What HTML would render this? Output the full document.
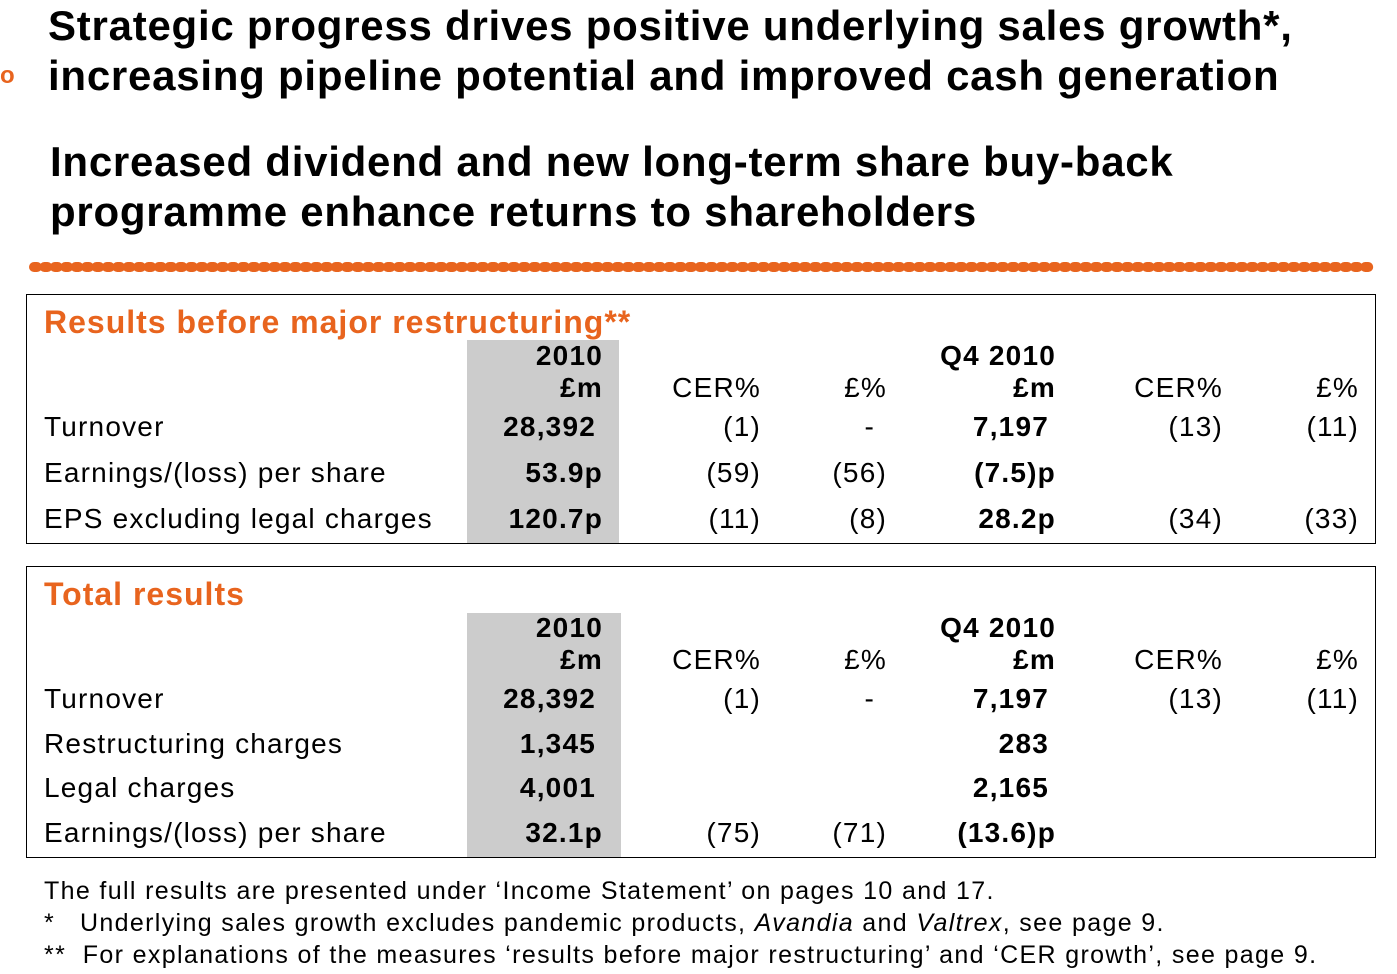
<!DOCTYPE html>
<html><head><meta charset="utf-8"><style>
body{margin:0;width:1397px;height:974px;background:#fff;position:relative;overflow:hidden;font-family:"Liberation Sans",Arial,sans-serif;}
.a{position:absolute;white-space:nowrap;line-height:1;}
.t{font-weight:bold;font-size:42px;color:#000;left:48px;letter-spacing:0.75px;}
.h{font-weight:bold;font-size:32px;color:#E8641E;left:44px;letter-spacing:1px;}
.c{font-size:28px;color:#000;letter-spacing:1.2px;}
.b{font-weight:bold;}
.r{text-align:right;width:250px;}
.box{position:absolute;border:1.5px solid #000;}
.gray{position:absolute;background:#CCCCCC;}
.f{font-size:25px;color:#000;left:44px;letter-spacing:1.35px;}
</style></head><body>
<div class="a" style="left:0;top:64px;font-size:24px;font-weight:bold;color:#E8641E">o</div>
<div class="a t" style="top:5px">Strategic progress drives positive underlying sales growth*,</div>
<div class="a t" style="top:55px">increasing pipeline potential and improved cash generation</div>
<div class="a t" style="top:141px;left:50px">Increased dividend and new long-term share buy-back</div>
<div class="a t" style="top:191px;left:50px">programme enhance returns to shareholders</div>
<svg class="a" style="left:28px;top:260px" width="1350" height="14">
<line x1="6" y1="7" x2="1342" y2="7" stroke="#E8641E" stroke-width="10" stroke-linecap="round" stroke-dasharray="3 7.4"/>
<line x1="6" y1="7" x2="1342" y2="7" stroke="#E8641E" stroke-width="5"/>
</svg>

<div class="box" style="left:26px;top:294px;width:1348px;height:248px"></div>
<div class="gray" style="left:467px;top:340px;width:152px;height:203px"></div>
<div class="a h" style="top:306px">Results before major restructuring**</div>

<div class="box" style="left:26px;top:566px;width:1348px;height:290px"></div>
<div class="gray" style="left:467px;top:613px;width:154px;height:244px"></div>
<div class="a h" style="top:578px">Total results</div>

<div id="cells"></div>

<div class="a f" style="top:879px">The full results are presented under ‘Income Statement’ on pages 10 and 17.</div>
<div class="a f" style="top:911px">*&nbsp;&nbsp; Underlying sales growth excludes pandemic products, <i>Avandia</i> and <i>Valtrex</i>, see page 9.</div>
<div class="a f" style="top:943px">**&nbsp; For explanations of the measures ‘results before major restructuring’ and ‘CER growth’, see page 9.</div>

<script>
const colRight=[603,761,887,1056,1223,1359];
const colBold=[true,false,false,true,false,false];
const t1Header=[["2010","£m"],["","CER%"],["","£%"],["Q4 2010","£m"],["","CER%"],["","£%"]];
const t1Labels=["Turnover","Earnings/(loss) per share","EPS excluding legal charges"];
const t1Values=[["28,392","(1)","-","7,197","(13)","(11)"],["53.9p","(59)","(56)","(7.5)p","",""],["120.7p","(11)","(8)","28.2p","(34)","(33)"]];
const t2Labels=["Turnover","Restructuring charges","Legal charges","Earnings/(loss) per share"];
const t2Values=[["28,392","(1)","-","7,197","(13)","(11)"],["1,345","","","283","",""],["4,001","","","2,165","",""],["32.1p","(75)","(71)","(13.6)p","",""]];
const host=document.getElementById('cells');
function put(txt,x,y,bold,right,name){
  if(!txt)return;
  const d=document.createElement('div');
  d.className='a c'+(bold?' b':'')+(right?' r':'');
  d.style.left=(right?x-250:x)+'px';
  d.style.top=(y-15)+'px';
  d.textContent=txt;
  
  
  host.appendChild(d);
}
function table(header,labels,values,hy,rowYs,p){
  header.forEach((h,i)=>{put(h[0],colRight[i],hy,true,true,p+'-header-'+i+'-top');put(h[1],colRight[i],hy+32,colBold[i],true,p+'-header-'+i);});
  labels.forEach((l,r)=>{
    put(l,44,rowYs[r],false,false,p+'-row-label-'+r);
    values[r].forEach((v,i)=>{
      let off=0;
      if(v==='-')off=12;
      else if(colBold[i]&&/^[0-9,]+$/.test(v))off=7;
      put(v,colRight[i]-off,rowYs[r],colBold[i],true,p+'-cell-'+r+'-'+i);
    });
  });
}
table(t1Header,t1Labels,t1Values,357,[428,474,520],'t1');
table(t1Header,t2Labels,t2Values,629,[700,745,789,834],'t2');
</script>
</body></html>
